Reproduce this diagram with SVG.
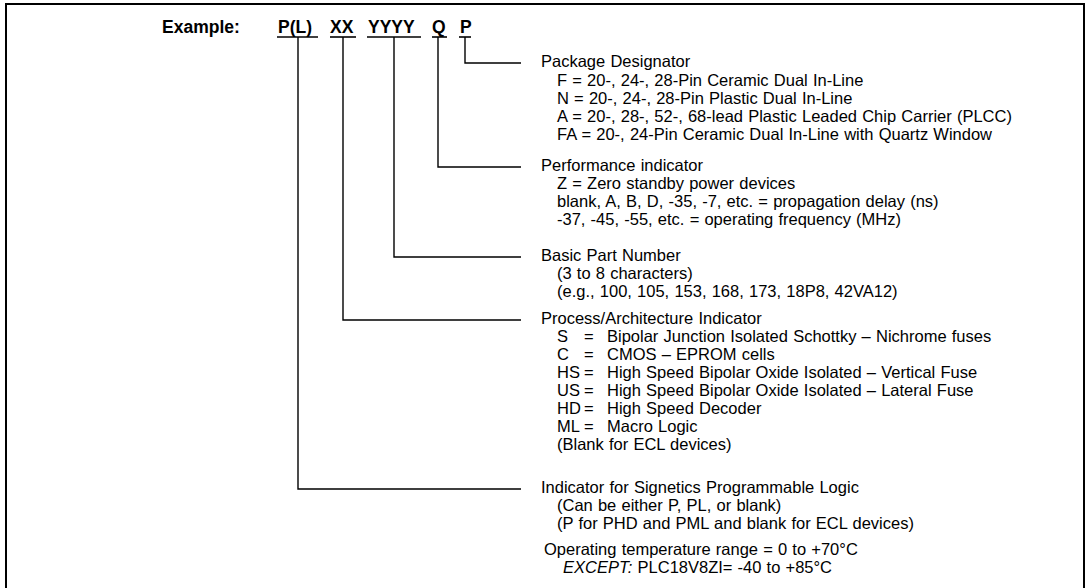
<svg xmlns="http://www.w3.org/2000/svg" width="1086" height="588" viewBox="0 0 1086 588">
<style>
.t{font-family:"Liberation Sans",Arial,sans-serif;font-size:16.5px;word-spacing:0.6px;fill:#000}
.b{font-family:"Liberation Sans",Arial,sans-serif;font-size:17.5px;font-weight:bold;fill:#000}
.c{stroke:#000;stroke-width:1.4;fill:none}
.u{stroke:#000;stroke-width:1.6}
</style>
<rect x="0" y="0" width="1086" height="588" fill="#fff"/>
<rect x="6" y="4" width="1078" height="600" fill="none" stroke="#000" stroke-width="2"/>
<g id="example">
<text class="b" x="162" y="33">Example:</text>
<text class="b" x="278" y="33">P(L)</text>
<text class="b" x="330" y="33">XX</text>
<text class="b" x="368" y="33">YYYY</text>
<text class="b" x="432" y="33">Q</text>
<text class="b" x="460" y="33">P</text>
<line class="u" x1="277" y1="37" x2="318" y2="37"/>
<line class="u" x1="330" y1="37" x2="356" y2="37"/>
<line class="u" x1="367" y1="37" x2="421" y2="37"/>
<line class="u" x1="432" y1="37" x2="447" y2="37"/>
<line class="u" x1="459" y1="37" x2="471" y2="37"/>
</g>
<g id="connectors">
<polyline class="c" points="465,37 465,63 521,63"/>
<polyline class="c" points="438,37 438,167 521,167"/>
<polyline class="c" points="394,37 394,257 521,257"/>
<polyline class="c" points="343,37 343,320 521,320"/>
<polyline class="c" points="298,37 298,489 521,489"/>
</g>
<g id="package">
<text class="t" x="541" y="67">Package Designator</text>
<text class="t" x="557" y="86">F = 20-, 24-, 28-Pin Ceramic Dual In-Line</text>
<text class="t" x="557" y="104">N = 20-, 24-, 28-Pin Plastic Dual In-Line</text>
<text class="t" x="557" y="122">A = 20-, 28-, 52-, 68-lead Plastic Leaded Chip Carrier (PLCC)</text>
<text class="t" x="557" y="140">FA = 20-, 24-Pin Ceramic Dual In-Line with Quartz Window</text>
</g>
<g id="performance">
<text class="t" x="541" y="171">Performance indicator</text>
<text class="t" x="557" y="189">Z = Zero standby power devices</text>
<text class="t" x="557" y="207">blank, A, B, D, -35, -7, etc. = propagation delay (ns)</text>
<text class="t" x="557" y="225">-37, -45, -55, etc. = operating frequency (MHz)</text>
</g>
<g id="basic">
<text class="t" x="541" y="261">Basic Part Number</text>
<text class="t" x="557" y="279">(3 to 8 characters)</text>
<text class="t" x="557" y="297">(e.g., 100, 105, 153, 168, 173, 18P8, 42VA12)</text>
</g>
<g id="process">
<text class="t" x="541" y="324">Process/Architecture Indicator</text>
<text class="t" x="557" y="342">S</text><text class="t" x="584" y="342">=</text><text class="t" x="607" y="342">Bipolar Junction Isolated Schottky – Nichrome fuses</text>
<text class="t" x="557" y="360">C</text><text class="t" x="584" y="360">=</text><text class="t" x="607" y="360">CMOS – EPROM cells</text>
<text class="t" x="557" y="378">HS</text><text class="t" x="584" y="378">=</text><text class="t" x="607" y="378">High Speed Bipolar Oxide Isolated – Vertical Fuse</text>
<text class="t" x="557" y="396">US</text><text class="t" x="584" y="396">=</text><text class="t" x="607" y="396">High Speed Bipolar Oxide Isolated – Lateral Fuse</text>
<text class="t" x="557" y="414">HD</text><text class="t" x="584" y="414">=</text><text class="t" x="607" y="414">High Speed Decoder</text>
<text class="t" x="557" y="432">ML</text><text class="t" x="584" y="432">=</text><text class="t" x="607" y="432">Macro Logic</text>
<text class="t" x="557" y="450">(Blank for ECL devices)</text>
</g>
<g id="indicator">
<text class="t" x="541" y="493">Indicator for Signetics Programmable Logic</text>
<text class="t" x="557" y="511">(Can be either P, PL, or blank)</text>
<text class="t" x="557" y="529">(P for PHD and PML and blank for ECL devices)</text>
</g>
<g id="temperature">
<text class="t" x="544" y="555">Operating temperature range = 0 to +70°C</text>
<text class="t" x="563" y="573"><tspan font-style="italic">EXCEPT:</tspan> PLC18V8ZI=<tspan dx="5">-40 to +85°C</tspan></text>
</g>
</svg>
